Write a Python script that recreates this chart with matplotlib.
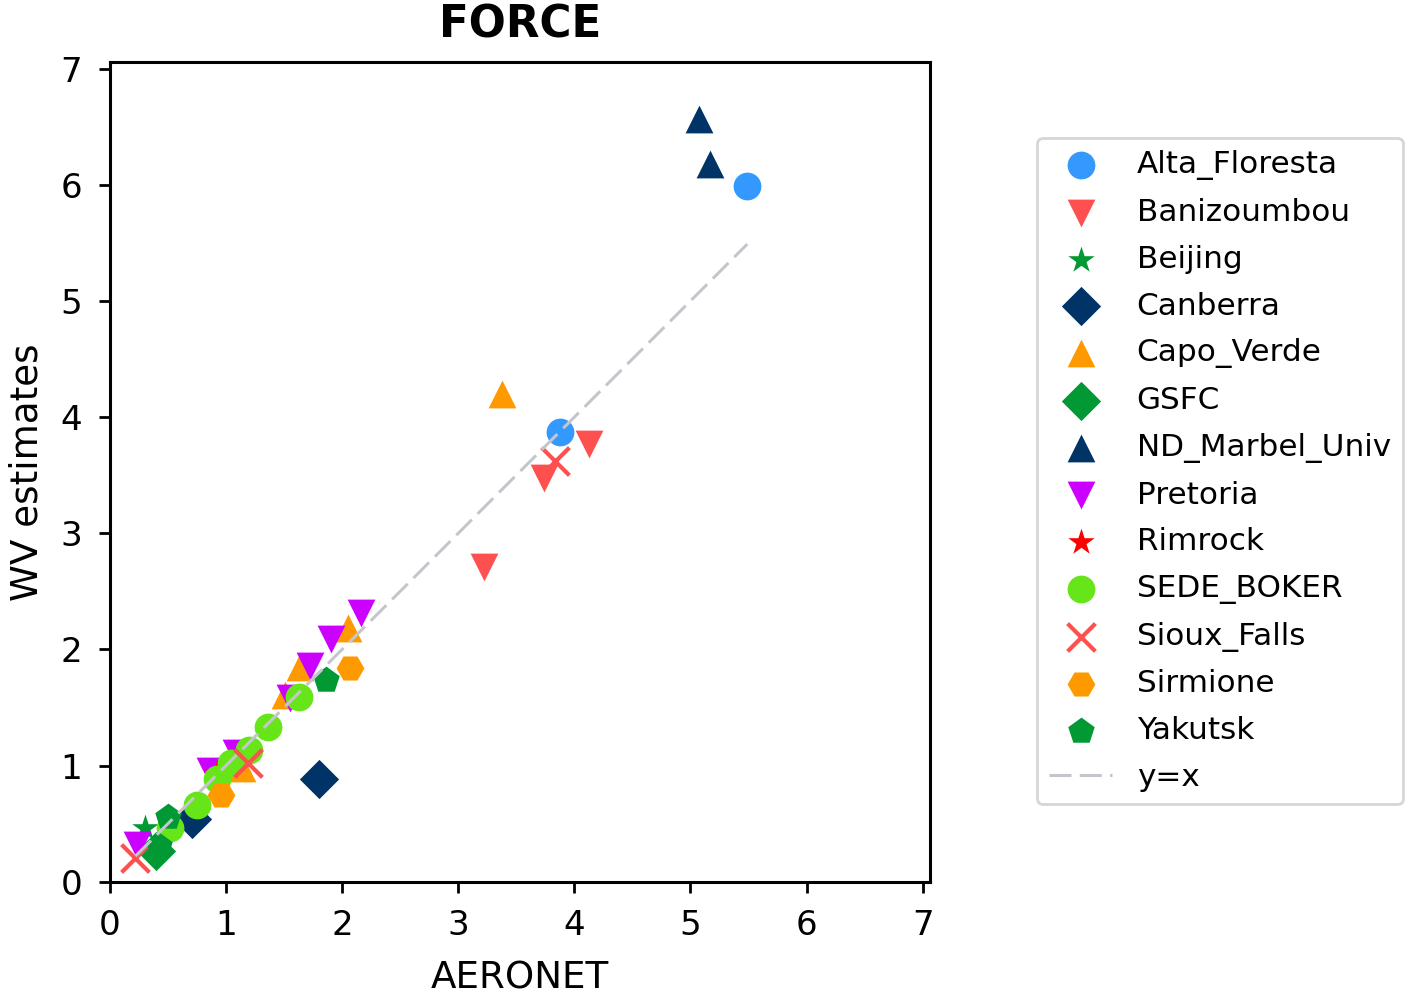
import numpy as np
import matplotlib
matplotlib.use('Agg')
import matplotlib.pyplot as plt

##############
# data (AERONET vs. WV estimate per site)
##############

sites = ['Alta_Floresta', 'Banizoumbou', 'Beijing', 'Canberra', 'Capo_Verde', 'GSFC',
         'ND_Marbel_Univ', 'Pretoria', 'Rimrock', 'SEDE_BOKER', 'Sioux_Falls',
         'Sirmione', 'Yakutsk']

alta_floresta_x = [5.49, 3.88]
alta_floresta_y = [5.99, 3.87]
banizoumbou_x = [4.13, 3.74, 3.22]
banizoumbou_y = [3.77, 3.48, 2.71]
beijing_x = [0.30]
beijing_y = [0.46]
canberra_x = [1.80, 0.71]
canberra_y = [0.88, 0.54]
capo_verde_x = [3.38, 2.05, 1.64, 1.51, 1.14]
capo_verde_y = [4.20, 2.18, 1.85, 1.61, 0.98]
gsfc_x = [0.40]
gsfc_y = [0.26]
nd_marbel_x = [5.07, 5.17]
nd_marbel_y = [6.57, 6.18]
pretoria_x = [2.16, 1.90, 1.72, 1.55, 1.09, 0.86, 0.23]
pretoria_y = [2.31, 2.09, 1.86, 1.58, 1.11, 0.95, 0.32]
rimrock_x = [0.92]
rimrock_y = [0.94]
sede_boker_x = [1.63, 1.36, 1.20, 1.04, 0.92, 0.75, 0.52]
sede_boker_y = [1.59, 1.33, 1.13, 1.02, 0.88, 0.66, 0.46]
sioux_falls_x = [3.83, 1.19, 0.22]
sioux_falls_y = [3.62, 1.02, 0.20]
sirmione_x = [2.07, 0.96]
sirmione_y = [1.84, 0.75]
yakutsk_x = [1.86, 0.50, 0.42]
yakutsk_y = [1.74, 0.56, 0.31]

site_x = [alta_floresta_x, banizoumbou_x, beijing_x, canberra_x, capo_verde_x, gsfc_x,
          nd_marbel_x, pretoria_x, rimrock_x, sede_boker_x, sioux_falls_x, sirmione_x, yakutsk_x]
site_y = [alta_floresta_y, banizoumbou_y, beijing_y, canberra_y, capo_verde_y, gsfc_y,
          nd_marbel_y, pretoria_y, rimrock_y, sede_boker_y, sioux_falls_y, sirmione_y, yakutsk_y]

markers = ['o', 'v', '*', 'D', '^', 'D', '^', 'v', '*', 'o', 'x', 'H', 'p']
colours = ['#3399ff', '#ff5050', '#009933', '#003366', '#ff9900', '#009933', '#003366',
           '#cc00ff', '#ff0000', '#66e619', '#ff5050', '#ff9900', '#009933']

##############
##############

tickfont = 12.3
labelfont = 13.4
legendfont = 11.2

figure = plt.figure(figsize=(7.03, 4.97), dpi=200)
axis = figure.add_axes([0.0782, 0.1130, 0.5832, 0.8249])

for name, xs, ys, mk, col in zip(sites, site_x, site_y, markers, colours):
    if mk == 'x':
        axis.scatter(xs, ys, s=100, marker=mk, color=col, linewidths=1.5, label=name)
    else:
        axis.scatter(xs, ys, s=100, marker=mk, color=col, linewidths=0, label=name)

# 1:1 line over the AERONET range
allx = np.concatenate([np.asarray(v) for v in site_x])
lo, hi = allx.min(), allx.max()
axis.plot([lo, hi], [lo, hi], linestyle=(0, (7.2, 2.7)), color='#c3c7cc',
          linewidth=1.1, label='y=x')

axis.set_xlim(0, 7.063)
axis.set_ylim(0, 7.06)
axis.set_xticks(range(0, 8))
axis.set_yticks(range(0, 8))
for sp in axis.spines.values():
    sp.set_linewidth(1.1)
axis.tick_params(length=4, width=1.0, pad=6, labelsize=tickfont)

axis.set_xlabel('AERONET', fontsize=labelfont, labelpad=6)
axis.set_ylabel('WV estimates', fontsize=labelfont, labelpad=5.5)
axis.set_title('FORCE', fontsize=15.7, fontweight='bold', pad=8.6)

figure.legend(loc='center left', bbox_to_anchor=(0.7265, 0.526), fontsize=legendfont,
              labelspacing=0.57, borderpad=0.4, handletextpad=0.8, scatterpoints=1)

figure.savefig('out.png', dpi=200)
plt.close(figure)
